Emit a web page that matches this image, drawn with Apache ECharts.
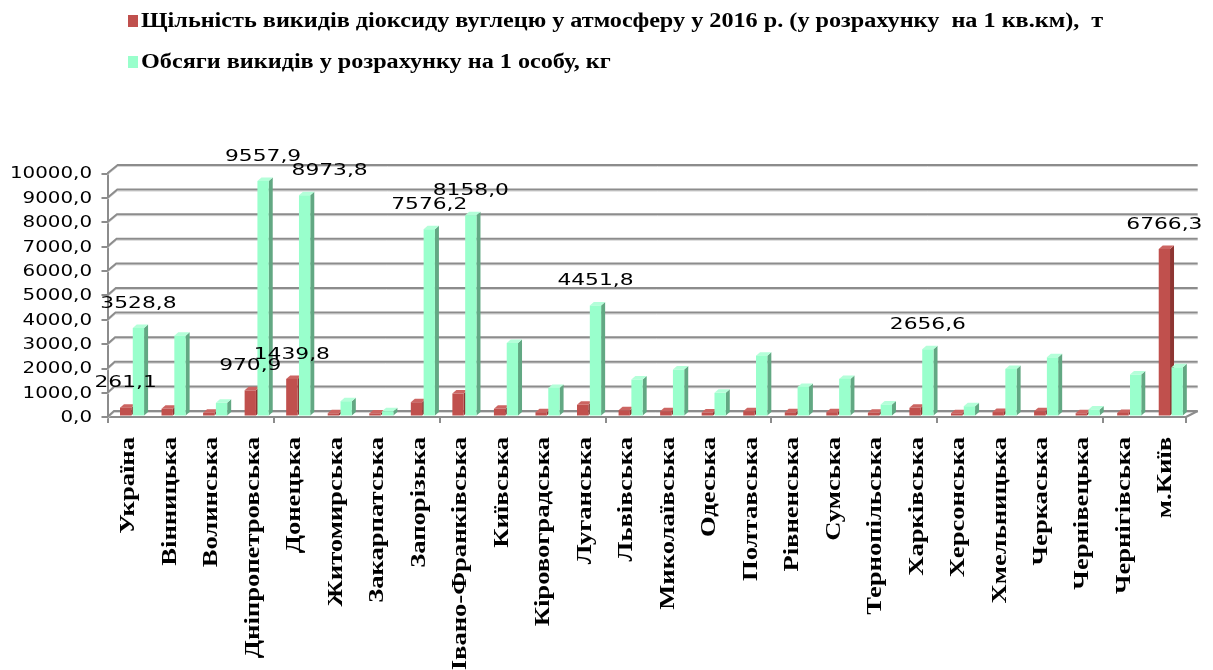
<!DOCTYPE html>
<html>
<head>
<meta charset="utf-8">
<script src="https://cdn.jsdelivr.net/npm/echarts@6/dist/echarts.min.js"></script>
<style>
  html, body { margin: 0; padding: 0; background: #ffffff; }
  #chart { width: 1213px; height: 670px; }
</style>
</head>
<body>
<div id="chart"></div>
<script>
// Regions of Ukraine
const regions = ['Україна', 'Вінницька', 'Волинська', 'Дніпропетровська', 'Донецька',
  'Житомирська', 'Закарпатська', 'Запорізька', 'Івано-Франківська', 'Київська',
  'Кіровоградська', 'Луганська', 'Львівська', 'Миколаївська', 'Одеська', 'Полтавська',
  'Рівненська', 'Сумська', 'Тернопільська', 'Харківська', 'Херсонська', 'Хмельницька',
  'Черкаська', 'Чернівецька', 'Чернігівська', 'м.Київ'];

// CO2 emission density, t per 1 sq.km (2016)
const densityName = 'Щільність викидів діоксиду вуглецю у атмосферу у 2016 р. (у розрахунку  на 1 кв.км),  т';
const density = [261.1, 213, 49, 970.9, 1439.8, 30, 25, 483, 839, 213,
  74, 377, 156, 115, 60, 115, 70, 75, 50, 254, 30, 80, 115, 30, 45, 6766.3];

// Emissions per person, kg
const perCapitaName = 'Обсяги викидів у розрахунку на 1 особу, кг';
const perCapita = [3528.8, 3213, 458, 9557.9, 8973.8, 524, 115, 7576.2, 8158.0, 2914,
  1072, 4451.8, 1412, 1822, 867, 2395, 1113, 1441, 389, 2656.6, 319, 1850, 2325, 184, 1617, 1916];

// Which bars carry a value label
const densityLabelled = ['Україна', 'Дніпропетровська', 'Донецька', 'м.Київ'];
const perCapitaLabelled = ['Україна', 'Дніпропетровська', 'Донецька', 'Запорізька',
  'Івано-Франківська', 'Луганська', 'Харківська'];

// Value axis ticks
const yMin = 0, yMax = 10000, yStep = 1000;
const yTicks = [0, 1000, 2000, 3000, 4000, 5000, 6000, 7000, 8000, 9000, 10000];

const fmt = v => v.toFixed(1).replace('.', ',');

const COLORS = {
  density: { front: '#c0504d', side: '#8e3532', top: '#cc6562' },
  perCapita: { front: '#99ffcc', side: '#62a883', top: '#b4ffd9' }
};

// Labels nudged sideways so they do not sit on top of each other
const labelShift = { 'Донецька': 25 };

const BAR_W = 11.3, DEPTH_X = 4, DEPTH_Y = 3.5;
const GRID_LINE = '#8c8c8c';
const NUM_FONT = 'DejaVu Sans';
const CAT_FONT = 'Liberation Serif';

function makeBarRenderer(startOffset, colors, labelled, values, shifts) {
  return function (params, api) {
    const i = api.value(0);
    const v = api.value(1);
    const cs = params.coordSys;
    const base = api.coord([i, 0]);
    const top = api.coord([i, v]);
    const t = (base[0] - cs.x) / cs.width;
    const x0 = base[0] + startOffset + 1.8 * t;
    const yb = base[1] - 1.5;
    const yt = top[1] - 3;
    const w = BAR_W, dx = DEPTH_X, dy = DEPTH_Y;
    const children = [
      { type: 'polygon', shape: { points: [[x0 + w, yt], [x0 + w + dx, yt - dy], [x0 + w + dx, yb - dy], [x0 + w, yb]] },
        style: { fill: colors.side } },
      { type: 'polygon', shape: { points: [[x0, yt], [x0 + dx, yt - dy], [x0 + w + dx, yt - dy], [x0 + w, yt]] },
        style: { fill: colors.top } },
      { type: 'rect', shape: { x: x0, y: yt, width: w, height: Math.max(yb - yt, 0) },
        style: { fill: colors.front } }
    ];
    const name = regions[i];
    if (labelled.indexOf(name) >= 0) {
      children.push({
        type: 'text',
        x: x0 + w / 2 + (shifts[name] || 0),
        y: yt - 24.5,
        scaleX: 1.36,
        z2: 10,
        style: {
          text: fmt(values[i]),
          fontFamily: NUM_FONT,
          fontSize: 16,
          fill: '#000000',
          align: 'center',
          verticalAlign: 'middle'
        }
      });
    }
    return { type: 'group', children: children };
  };
}

// Back wall grid lines, side-wall links, floor outline and value tick labels
function renderFrame(params, api) {
  const v = api.value(1);
  const cs = params.coordSys;
  const y = api.coord([0, v])[1];
  const f = v / yMax;
  const dxl = 6.5 + 3.7 * f;
  const dyl = -6 - 2.3 * f;
  const xl = cs.x;
  const xr = cs.x + cs.width + 11.7;
  const lineStyle = { stroke: GRID_LINE, lineWidth: 2, fill: null };
  const shadow = { stroke: '#d6d6d6', lineWidth: 1, fill: null };
  const children = [
    { type: 'polyline', shape: { points: [[xl, y + 1.5], [xl + dxl, y + dyl + 1.5], [xr, y + dyl + 1.5]] }, style: shadow },
    { type: 'polyline', shape: { points: [[xl, y], [xl + dxl, y + dyl], [xr, y + dyl]] }, style: lineStyle },
    {
      type: 'text',
      x: cs.x - 15.5,
      y: y + 1,
      scaleX: 1.24,
      style: {
        text: fmt(v),
        fontFamily: NUM_FONT,
        fontSize: 16,
        fill: '#000000',
        align: 'right',
        verticalAlign: 'middle'
      }
    }
  ];
  if (v === yMin) {
    children.push({ type: 'line', shape: { x1: cs.x + cs.width, y1: y, x2: xr, y2: y + dyl }, style: lineStyle });
  }
  return { type: 'group', children: children };
}

// Vertical region names under the category axis
function renderCategoryLabel(params, api) {
  const i = api.value(0);
  const cs = params.coordSys;
  const p = api.coord([i, 0]);
  return {
    type: 'text',
    x: p[0] + 1,
    y: cs.y + cs.height + 20,
    rotation: Math.PI / 2,
    scaleX: 1.33,
    style: {
      text: regions[i],
      fontFamily: CAT_FONT,
      fontWeight: 'bold',
      fontSize: 20,
      fill: '#000000',
      align: 'right',
      verticalAlign: 'middle'
    }
  };
}

// Legend drawn as rows of a coloured square and a caption
function legendRow(top, color, text) {
  return {
    type: 'group',
    left: 128,
    top: top,
    children: [
      { type: 'rect', shape: { x: 0, y: 0, width: 10, height: 12 }, style: { fill: color } },
      {
        type: 'text', x: 13, y: 6.5, scaleX: 1.21,
        style: { text: text, fontFamily: CAT_FONT, fontWeight: 'bold', fontSize: 20,
          fill: '#000000', align: 'left', verticalAlign: 'middle' }
      }
    ]
  };
}

const chart = echarts.init(document.getElementById('chart'), null, { renderer: 'canvas' });

chart.setOption({
  animation: false,
  backgroundColor: '#ffffff',
  graphic: [
    legendRow(11.5, COLORS.density.front, densityName),
    legendRow(52.5, COLORS.perCapita.front, perCapitaName)
  ],
  grid: { left: 107.5, right: 27, top: 173.3, bottom: 253 },
  xAxis: {
    type: 'category',
    data: regions,
    axisLine: { lineStyle: { color: GRID_LINE, width: 2 } },
    axisTick: { show: true, length: 6, lineStyle: { color: GRID_LINE, width: 2 } },
    axisLabel: { show: false }
  },
  yAxis: {
    type: 'value',
    min: yMin,
    max: yMax,
    interval: yStep,
    axisLine: { show: true, lineStyle: { color: GRID_LINE, width: 2 } },
    axisTick: { show: true, length: 6, lineStyle: { color: GRID_LINE, width: 2 } },
    splitLine: { show: false },
    axisLabel: { show: false }
  },
  series: [
    {
      name: 'frame',
      type: 'custom',
      silent: true,
      z: 1,
      renderItem: renderFrame,
      data: yTicks.map(v => [0, v])
    },
    {
      name: 'regionLabels',
      type: 'custom',
      silent: true,
      z: 1,
      renderItem: renderCategoryLabel,
      data: regions.map((r, i) => [i, 0])
    },
    {
      name: densityName,
      type: 'custom',
      z: 3,
      itemStyle: { color: COLORS.density.front },
      renderItem: makeBarRenderer(-8.3, COLORS.density, densityLabelled, density, {}),
      data: density.map((v, i) => [i, v])
    },
    {
      name: perCapitaName,
      type: 'custom',
      z: 3,
      itemStyle: { color: COLORS.perCapita.front },
      renderItem: makeBarRenderer(4.5, COLORS.perCapita, perCapitaLabelled, perCapita, labelShift),
      data: perCapita.map((v, i) => [i, v])
    }
  ]
});
</script>
</body>
</html>
